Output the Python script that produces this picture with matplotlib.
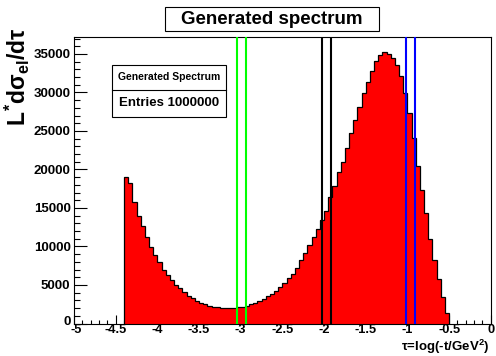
import numpy as np
import matplotlib
matplotlib.use("Agg")
import matplotlib.pyplot as plt
from matplotlib.patches import Rectangle
from matplotlib.lines import Line2D
from matplotlib.ticker import MultipleLocator
from matplotlib.transforms import ScaledTranslation

# ---- data ----
bin_lo = -5.0
bin_hi = 0.0
n_bins = 100
first_filled_bin = 12
counts_filled = [
    19050, 18240, 15820, 14010, 12600, 11210, 9920, 8850, 7990, 7000,
    6270, 5710, 4980, 4550, 4030, 3560, 3260, 2950, 2690, 2480,
    2310, 2180, 2090, 2030, 2000, 1990, 2010, 2090, 2180, 2310,
    2490, 2710, 2930, 3190, 3530, 3880, 4240, 4680, 5260, 5860,
    6460, 7260, 8200, 9150, 10140, 11210, 12300, 13460, 14660, 16470,
    17890, 19610, 21030, 22760, 24770, 26370, 28090, 29940, 31360, 32740,
    34120, 34810, 35200, 34980, 34460, 33610, 32190, 29940, 27360, 24130,
    20470, 17330, 14310, 11000, 8200, 5840, 3470, 1320,
]
green_lines = [-3.045, -2.94]
black_lines = [-2.02, -1.92]
blue_lines = [-1.02, -0.915]
title = "Generated spectrum"
stats_name = "Generated Spectrum"
stats_entries = "Entries 1000000"
xlabel = r"$\tau$=log(-t/GeV$^{2}$)"
ylabel = r"$L^{*}d\sigma_{el}/d\tau$"

edges = np.linspace(bin_lo, bin_hi, n_bins + 1)
counts = np.zeros(n_bins)
counts[first_filled_bin:first_filled_bin + len(counts_filled)] = counts_filled
fe = edges[first_filled_bin:first_filled_bin + len(counts_filled) + 1]
fc = counts[first_filled_bin:first_filled_bin + len(counts_filled)]

plt.rcParams['font.family'] = ['Liberation Sans', 'DejaVu Sans']
plt.rcParams['mathtext.fontset'] = 'custom'
plt.rcParams['mathtext.rm'] = 'Liberation Sans:bold'
plt.rcParams['mathtext.it'] = 'Liberation Sans:bold'
plt.rcParams['mathtext.bf'] = 'Liberation Sans:bold'
plt.rcParams['mathtext.sf'] = 'Liberation Sans:bold'

W, H = 496, 356
fig = plt.figure(figsize=(W / 100, H / 100), dpi=100)
fig.patch.set_facecolor('white')

L, R, T, B = 74, 490.8, 37, 323.5
ax = fig.add_axes([L / W, 1 - B / H, (R - L) / W, (B - T) / H])

ax.stairs(fc, fe, fill=True, color='#ff0000', baseline=0, zorder=2)
ax.stairs(fc, fe, fill=False, color='black', baseline=0, linewidth=0.9, zorder=3)

for xv in green_lines:
    ax.axvline(xv, color='#00ff00', linewidth=1.5, zorder=4)
for xv in black_lines:
    ax.axvline(xv, color='black', linewidth=1.5, zorder=4)
for xv in blue_lines:
    ax.axvline(xv, color='#0000ff', linewidth=1.5, zorder=4)

ax.set_xlim(bin_lo, bin_hi)
ax.set_ylim(0, 37200)
ax.xaxis.set_major_locator(MultipleLocator(0.5))
ax.xaxis.set_minor_locator(MultipleLocator(0.1))
ax.yaxis.set_major_locator(MultipleLocator(5000))
ax.yaxis.set_minor_locator(MultipleLocator(1000))
ax.xaxis.set_major_formatter(matplotlib.ticker.FuncFormatter(
    lambda v, p: '0' if abs(v) < 1e-9 else '%g' % v))

ax.tick_params(axis='x', which='major', direction='in', length=6.2, width=0.8,
               labelsize=9.3, pad=0.5, top=False)
ax.tick_params(axis='x', which='minor', direction='in', length=3.1, width=0.8, top=False)
ax.tick_params(axis='y', which='major', direction='in', length=9, width=0.8,
               labelsize=9.5, pad=2.5, right=False)
ax.tick_params(axis='y', which='minor', direction='in', length=4.5, width=0.8, right=False)
for lab in ax.get_xticklabels() + ax.get_yticklabels():
    lab.set_fontweight('bold')
for s in ax.spines.values():
    s.set_linewidth(0.8)

# ROOT-like nudges of the corner labels ("0" on y raised, "-5" on x shifted right)
fig.canvas.draw()
for tk in ax.yaxis.get_major_ticks():
    if abs(tk.get_loc()) < 1e-9:
        tk.label1.set_transform(tk.label1.get_transform() +
                                ScaledTranslation(0, 3 / 100, fig.dpi_scale_trans))
for tk in ax.xaxis.get_major_ticks():
    if abs(tk.get_loc() - bin_lo) < 1e-9:
        tk.label1.set_transform(tk.label1.get_transform() +
                                ScaledTranslation(2 / 100, 0, fig.dpi_scale_trans))

# axis titles
fig.text(489 / W, 1 - 346.5 / H, xlabel, ha='right', va='center', fontsize=9.5,
         fontweight='bold')
fig.text(17 / W, 1 - 28 / H, ylabel, ha='center', va='top', rotation=90,
         fontsize=16.5, fontweight='bold')

# title box
fig.patches.append(Rectangle((165 / W, 1 - 31 / H), (379 - 165) / W, 24 / H,
                             transform=fig.transFigure, facecolor='white',
                             edgecolor='black', linewidth=0.8))
fig.text(272 / W, 1 - 19.5 / H, title, ha='center', va='center', fontsize=13.5,
         fontweight='bold')

# stats box
fig.patches.append(Rectangle((111.7 / W, 1 - 116.7 / H), (226 - 111.7) / W, (116.7 - 65) / H,
                             transform=fig.transFigure, facecolor='white',
                             edgecolor='black', linewidth=0.8, zorder=5))
fig.lines.append(Line2D([111.7 / W, 226 / W], [1 - 90 / H, 1 - 90 / H],
                        transform=fig.transFigure, color='black', linewidth=0.8, zorder=6))
fig.text(169 / W, 1 - 77.5 / H, stats_name, ha='center', va='center', fontsize=7.5,
         fontweight='bold', zorder=7)
fig.text(169 / W, 1 - 103.5 / H, stats_entries, ha='center', va='center', fontsize=9.5,
         fontweight='bold', zorder=7)

fig.savefig('out.png', dpi=100)
